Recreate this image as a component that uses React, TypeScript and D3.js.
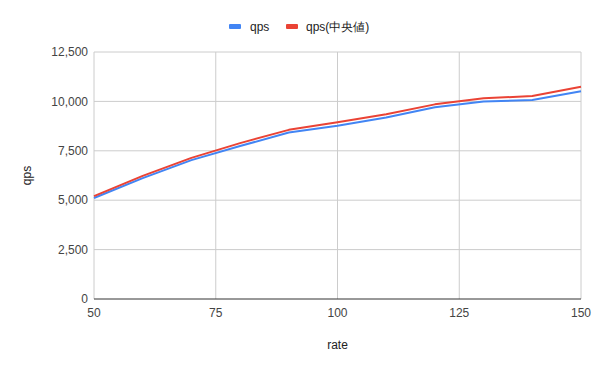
import React from "react";
import * as d3 from "d3";

const rates = [50, 60, 70, 80, 90, 100, 110, 120, 130, 140, 150];
const qps = [5110, 6120, 7030, 7740, 8430, 8770, 9180, 9700, 9990, 10070, 10510];
const qpsMedian = [5210, 6230, 7140, 7890, 8560, 8940, 9350, 9850, 10160, 10270, 10740];
const yTicks = [0, 2500, 5000, 7500, 10000, 12500];
const xTicks = [50, 75, 100, 125, 150];
const seriesNames = ["qps", "qps(中央値)"];
const colors = ["#4285f4", "#ea4335"];

export default function App() {
  const W = 600, H = 371;
  const left = 94, right = 581, top = 52, bottom = 299;
  const x = d3.scaleLinear().domain([50, 150]).range([left, right]);
  const y = d3.scaleLinear().domain([0, 12500]).range([bottom, top]);
  const fmt = d3.format(",");
  const line = d3.line<number>().x((_, i) => x(rates[i])).y((d) => y(d));
  const series = [qps, qpsMedian];
  const font = "'Liberation Sans', Arial, sans-serif";
  return (
    <svg width={W} height={H} style={{ position: "absolute", left: 0, top: 0, fontFamily: font }}>
      <rect width={W} height={H} fill="#fff" />
      {yTicks.map((t) => (
        <g key={"y" + t}>
          {t !== 0 && <line x1={left} x2={right} y1={y(t)} y2={y(t)} stroke="#cccccc" strokeWidth={1} />}
          <text x={left - 6} y={y(t)} dy="0.35em" textAnchor="end" fontSize={12} fill="#444">
            {fmt(t)}
          </text>
        </g>
      ))}
      {xTicks.map((t) => (
        <g key={"x" + t}>
          <line x1={x(t)} x2={x(t)} y1={top} y2={bottom} stroke="#cccccc" strokeWidth={1} />
          <text x={x(t)} y={bottom + 18} textAnchor="middle" fontSize={12} fill="#444">
            {t}
          </text>
        </g>
      ))}
      <line x1={left} x2={right} y1={bottom} y2={bottom} stroke="#333" strokeWidth={1} />
      {series.map((s, i) => (
        <path key={i} d={line(s) || ""} fill="none" stroke={colors[i]} strokeWidth={2} strokeLinejoin="round" />
      ))}
      <text x={(left + right) / 2} y={349} textAnchor="middle" fontSize={12} fill="#222">rate</text>
      <text transform={`translate(31, ${(top + bottom) / 2}) rotate(-90)`} textAnchor="middle" fontSize={12} fill="#222">qps</text>
      <g>
        <rect x={229} y={24} width={12} height={5} rx={1} fill={colors[0]} />
        <text x={250} y={31} fontSize={12} fill="#222">{seriesNames[0]}</text>
        <rect x={286} y={24} width={12} height={5} rx={1} fill={colors[1]} />
        <text x={306} y={31} fontSize={12} fill="#222">{seriesNames[1]}</text>
      </g>
    </svg>
  );
}
